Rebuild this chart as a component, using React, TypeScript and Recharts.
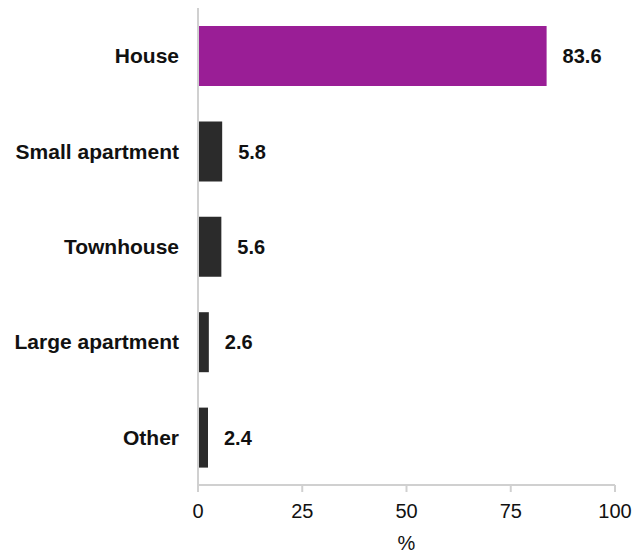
import React from 'react';
import { BarChart, Bar, XAxis, YAxis, Cell, LabelList } from 'recharts';

const categories = ['House', 'Small apartment', 'Townhouse', 'Large apartment', 'Other'];
const values = [83.6, 5.8, 5.6, 2.6, 2.4];
const barColors = ['#9a1e96', '#2b2b2b', '#2b2b2b', '#2b2b2b', '#2b2b2b'];
const xTicks = [0, 25, 50, 75, 100];

const data = categories.map((name, i) => ({ name, value: values[i] }));

const FONT = '"Liberation Sans", Arial, Helvetica, sans-serif';

export default function App() {
  return (
    <div style={{ position: 'absolute', left: 0, top: 0, fontFamily: FONT }}>
      <BarChart
        width={635}
        height={556}
        data={data}
        layout="vertical"
        margin={{ top: 8, right: 20, bottom: 0, left: 0 }}
        barSize={60}
      >
        <XAxis
          type="number"
          domain={[0, 100]}
          ticks={xTicks}
          height={71}
          axisLine={{ stroke: '#d0d0d0', strokeWidth: 2 }}
          tickLine={{ stroke: '#d0d0d0', strokeWidth: 2 }}
          tickSize={7}
          tickMargin={12}
          tick={{ fill: '#111', fontSize: 20, fontFamily: FONT }}
          label={{ value: '%', position: 'insideBottom', offset: 6, fill: '#111', fontSize: 20, fontFamily: FONT }}
        />
        <YAxis
          type="category"
          dataKey="name"
          width={198}
          axisLine={{ stroke: '#d0d0d0', strokeWidth: 2 }}
          tickLine={false}
          tickSize={0}
          tickMargin={19}
          interval={0}
          tick={{ fill: '#111', fontSize: 21, fontWeight: 'bold', fontFamily: FONT }}
        />
        <Bar dataKey="value" isAnimationActive={false}>
          {data.map((d, i) => (
            <Cell key={d.name} fill={barColors[i]} />
          ))}
          <LabelList
            dataKey="value"
            position="right"
            offset={16}
            fill="#111"
            fontSize={20}
            fontWeight="bold"
            fontFamily={FONT}
            formatter={(v: number) => v.toFixed(1)}
          />
        </Bar>
      </BarChart>
    </div>
  );
}
